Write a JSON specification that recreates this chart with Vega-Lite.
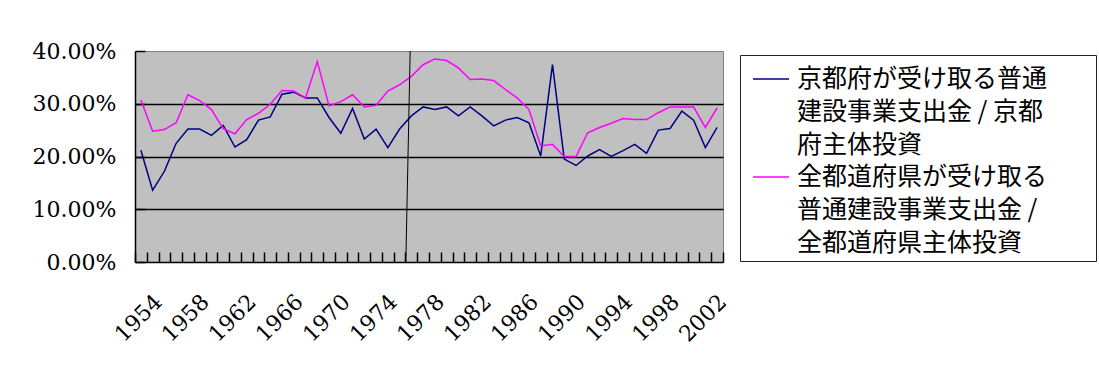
{
  "$schema": "https://vega.github.io/schema/vega-lite/v6.json",
  "width": 588,
  "height": 211,
  "autosize": "none",
  "padding": {"left": 135, "top": 51, "right": 376, "bottom": 105},
  "background": "white",
  "config": {
    "view": {"fill": "#C0C0C0", "stroke": "#808080", "strokeWidth": 1}
  },
  "datasets": {
    "series": [
      {"year": 1954, "kyoto": 0.212, "all": 0.307},
      {"year": 1955, "kyoto": 0.136, "all": 0.248},
      {"year": 1956, "kyoto": 0.172, "all": 0.251},
      {"year": 1957, "kyoto": 0.225, "all": 0.264},
      {"year": 1958, "kyoto": 0.252, "all": 0.317},
      {"year": 1959, "kyoto": 0.252, "all": 0.306},
      {"year": 1960, "kyoto": 0.240, "all": 0.289},
      {"year": 1961, "kyoto": 0.259, "all": 0.253},
      {"year": 1962, "kyoto": 0.218, "all": 0.243},
      {"year": 1963, "kyoto": 0.232, "all": 0.270},
      {"year": 1964, "kyoto": 0.269, "all": 0.282},
      {"year": 1965, "kyoto": 0.275, "all": 0.299},
      {"year": 1966, "kyoto": 0.318, "all": 0.325},
      {"year": 1967, "kyoto": 0.322, "all": 0.324},
      {"year": 1968, "kyoto": 0.311, "all": 0.311},
      {"year": 1969, "kyoto": 0.311, "all": 0.380},
      {"year": 1970, "kyoto": 0.274, "all": 0.296},
      {"year": 1971, "kyoto": 0.244, "all": 0.304},
      {"year": 1972, "kyoto": 0.291, "all": 0.317},
      {"year": 1973, "kyoto": 0.233, "all": 0.294},
      {"year": 1974, "kyoto": 0.252, "all": 0.297},
      {"year": 1975, "kyoto": 0.217, "all": 0.324},
      {"year": 1976, "kyoto": 0.252, "all": 0.336},
      {"year": 1977, "kyoto": 0.277, "all": 0.352},
      {"year": 1978, "kyoto": 0.294, "all": 0.374},
      {"year": 1979, "kyoto": 0.289, "all": 0.385},
      {"year": 1980, "kyoto": 0.294, "all": 0.382},
      {"year": 1981, "kyoto": 0.277, "all": 0.368},
      {"year": 1982, "kyoto": 0.294, "all": 0.346},
      {"year": 1983, "kyoto": 0.277, "all": 0.347},
      {"year": 1984, "kyoto": 0.258, "all": 0.344},
      {"year": 1985, "kyoto": 0.269, "all": 0.327},
      {"year": 1986, "kyoto": 0.274, "all": 0.311},
      {"year": 1987, "kyoto": 0.264, "all": 0.289},
      {"year": 1988, "kyoto": 0.201, "all": 0.220},
      {"year": 1989, "kyoto": 0.374, "all": 0.223},
      {"year": 1990, "kyoto": 0.195, "all": 0.200},
      {"year": 1991, "kyoto": 0.183, "all": 0.200},
      {"year": 1992, "kyoto": 0.201, "all": 0.245},
      {"year": 1993, "kyoto": 0.213, "all": 0.255},
      {"year": 1994, "kyoto": 0.200, "all": 0.263},
      {"year": 1995, "kyoto": 0.211, "all": 0.272},
      {"year": 1996, "kyoto": 0.223, "all": 0.270},
      {"year": 1997, "kyoto": 0.206, "all": 0.270},
      {"year": 1998, "kyoto": 0.250, "all": 0.283},
      {"year": 1999, "kyoto": 0.253, "all": 0.294},
      {"year": 2000, "kyoto": 0.286, "all": 0.294},
      {"year": 2001, "kyoto": 0.269, "all": 0.294},
      {"year": 2002, "kyoto": 0.217, "all": 0.255},
      {"year": 2003, "kyoto": 0.255, "all": 0.292}
    ],
    "marker": [
      {"xa": 1976.9, "ya": 0.4, "xb": 1976.53, "yb": 0}
    ]
  },
  "layer": [
    {
      "data": {"name": "series"},
      "transform": [{"fold": ["kyoto", "all"], "as": ["series", "value"]}],
      "mark": {"type": "line", "strokeWidth": 1.5},
      "encoding": {
        "x": {
          "field": "year",
          "type": "ordinal",
          "scale": {"type": "band", "paddingInner": 0, "paddingOuter": 0},
          "axis": {
            "title": null,
            "ticks": true,
            "tickBand": "extent",
            "tickSize": -10,
            "tickColor": "black",
            "tickWidth": 1.5,
            "domainColor": "black",
            "domainWidth": 1.5,
            "grid": false,
            "labelAngle": -45,
            "labelAlign": "right",
            "labelBaseline": "middle",
            "labelFont": "DejaVu Serif",
            "labelFontSize": 22,
            "labelColor": "black",
            "labelOffset": 17,
            "labelPadding": 46,
            "labelOverlap": false,
            "labelExpr": "(datum.value - 1954) % 4 === 0 ? datum.label : ''"
          }
        },
        "y": {
          "field": "value",
          "type": "quantitative",
          "scale": {"domain": [0, 0.4], "nice": false},
          "axis": {
            "title": null,
            "values": [0, 0.1, 0.2, 0.3, 0.4],
            "format": ".2%",
            "ticks": true,
            "tickSize": -10,
            "tickColor": "black",
            "tickWidth": 1.5,
            "domainColor": "black",
            "domainWidth": 1.5,
            "grid": true,
            "gridColor": "black",
            "gridWidth": 1.5,
            "gridOpacity": {"condition": {"test": "datum.value >= 0.35 || datum.value <= 0.05", "value": 0}, "value": 1},
            "labelFont": "DejaVu Serif",
            "labelFontSize": 22,
            "labelColor": "black",
            "labelPadding": 29
          }
        },
        "color": {
          "field": "series",
          "type": "nominal",
          "scale": {"domain": ["kyoto", "all"], "range": ["#000080", "#FF00FF"]},
          "legend": {
            "orient": "none",
            "legendX": 605,
            "legendY": 4,
            "title": " ",
            "titleOrient": "right",
            "titleFontSize": 1,
            "titlePadding": 44,
            "padding": 5,
            "rowPadding": 0,
            "strokeColor": "#222222",
            "symbolType": "stroke",
            "symbolSize": 1296,
            "symbolStrokeWidth": 1.5,
            "symbolOffset": 7,
            "labelOffset": 7,
            "labelFont": "Noto Sans CJK JP",
            "labelFontSize": 25,
            "labelColor": "black",
            "labelLimit": 500,
            "labelBaseline": "middle",
            "labelExpr": "datum.value === 'kyoto' ? ['京都府が受け取る普通', '建設事業支出金 / 京都', '府主体投資'] : ['全都道府県が受け取る', '普通建設事業支出金 /', '全都道府県主体投資']",
            "encode": {"labels": {"update": {"lineHeight": {"value": 33}}}}
          }
        }
      }
    },
    {
      "data": {"name": "marker"},
      "mark": {"type": "rule", "color": "black", "strokeWidth": 1},
      "encoding": {
        "x": {"field": "xa", "type": "quantitative", "scale": {"domain": [1953.5, 2003.5], "nice": false, "zero": false}, "axis": null},
        "x2": {"field": "xb"},
        "y": {"field": "ya", "type": "quantitative"},
        "y2": {"field": "yb"}
      }
    }
  ],
  "resolve": {"scale": {"x": "independent"}}
}
